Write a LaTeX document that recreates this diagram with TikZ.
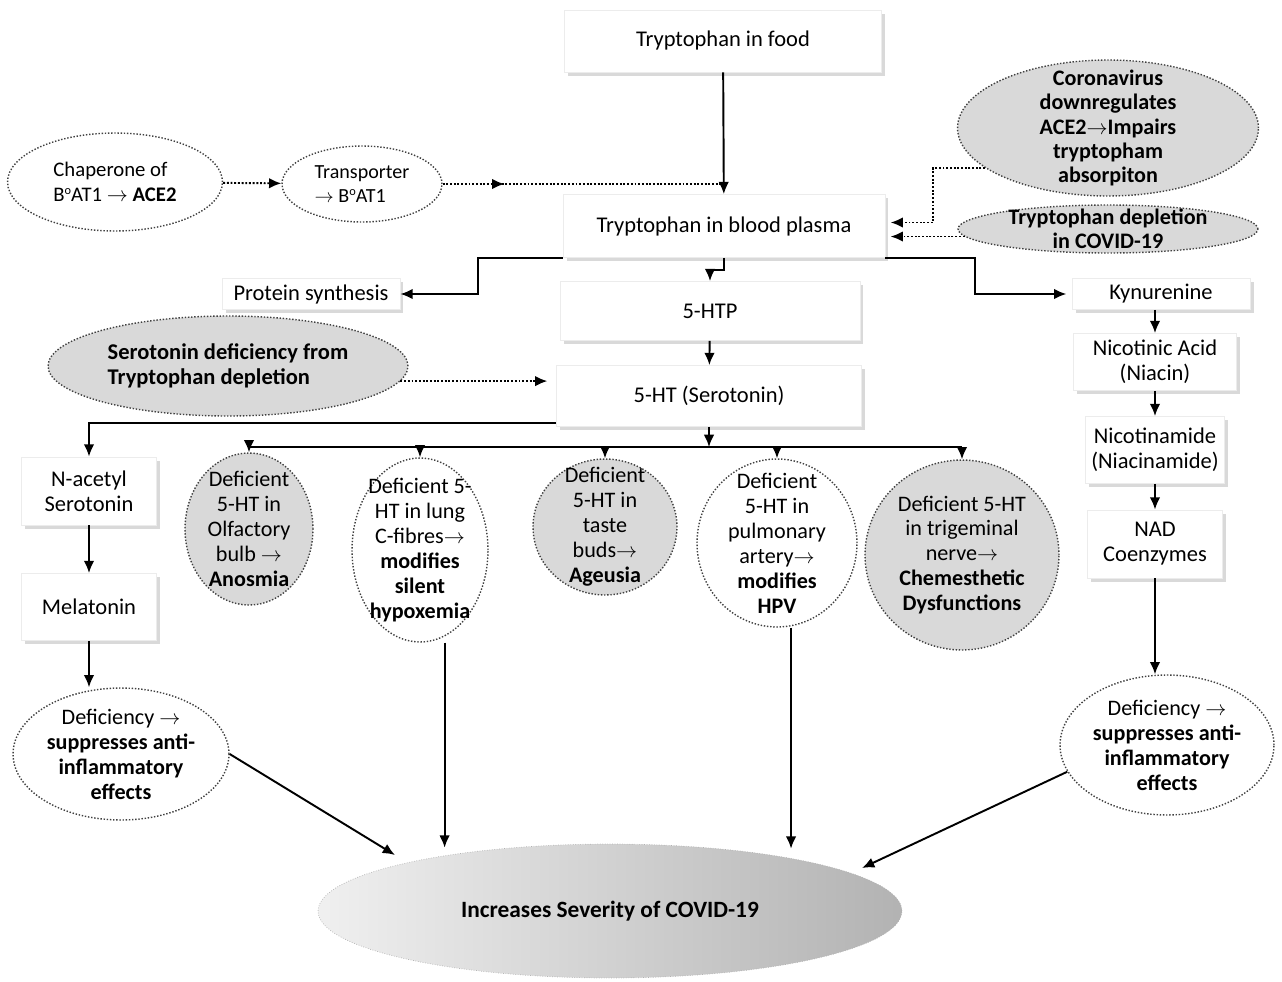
\documentclass[tikz,border=0pt]{standalone}
\usepackage{fontspec}
\setmainfont{Carlito}
\newcommand{\ra}{$\rightarrow$}
\newcommand{\supo}{\raisebox{0.7ex}{\fontsize{7}{7}\selectfont o}}
\usepackage{tikz}
\usetikzlibrary{positioning,shapes.geometric,shadows,decorations.markings,arrows.meta}

\tikzset{
  box/.style={rectangle, fill=white, draw=gray!15, align=center,
    drop shadow={shadow xshift=2pt, shadow yshift=-2pt, opacity=0.3},
    font=\fontsize{12.8}{14.2}\selectfont},
  bubble/.style={ellipse, draw=black!75, densely dotted, line width=0.8pt,
    fill=white, inner sep=-14pt, align=center,
    font=\fontsize{12.6}{14.2}\selectfont},
  greybubble/.style={bubble, fill=gray!30},
  arr/.style={->, line width=1.1pt},
  dotarr/.style={->, densely dotted, line width=1.1pt},
  >={Latex[length=7pt,width=6pt]}
}

\begin{document}
\begin{tikzpicture}[x=0.02cm, y=-0.02cm]
\useasboundingbox (0,0) rectangle (1282,981);

% main chain
\node[box, minimum width=6.34cm, minimum height=1.24cm] (food) at (723,41) {Tryptophan in food};
\node[box, minimum width=6.44cm, minimum height=1.26cm] (plasma) at (724,226) {Tryptophan in blood plasma};
\node[box, minimum width=3.56cm, minimum height=0.52cm] (protein) at (311,294) {Protein synthesis};
\node[box, minimum width=6.0cm, minimum height=1.18cm] (htp) at (710,311) {5-HTP};
\node[box, minimum width=6.1cm, minimum height=1.22cm] (ht) at (709,396) {5-HT (Serotonin)};

% kynurenine branch
\node[box, minimum width=3.56cm, minimum height=0.52cm] (kyn) at (1161,294) {Kynurenine};
\node[box, minimum width=3.26cm, minimum height=1.14cm] (niacin) at (1155,362) {Nicotinic Acid\\(Niacin)};
\node[box, minimum width=2.7cm, minimum height=1.34cm] (niacinamide) at (1155,450) {Nicotinamide\\(Niacinamide)};
\node[box, minimum width=2.7cm, minimum height=1.36cm] (nad) at (1155,544) {NAD\\Coenzymes};

% melatonin branch
\node[box, minimum width=2.7cm, minimum height=1.36cm] (nacetyl) at (89,491) {N-acetyl\\Serotonin};
\node[box, minimum width=2.7cm, minimum height=1.34cm] (melatonin) at (89,607) {Melatonin};

% side bubbles
\node[bubble, minimum width=4.3cm, minimum height=1.96cm, align=left,
  font=\fontsize{11.8}{14}\selectfont] (chap) at (115,182)
  {Chaperone of\\B\supo AT1 \ra\ \textbf{ACE2}};
\node[bubble, minimum width=3.2cm, minimum height=1.52cm, align=left,
  font=\fontsize{11.4}{13.6}\selectfont] (trans) at (362,184)
  {Transporter\\\ra\ B\supo AT1};
\node[greybubble, minimum width=6.02cm, minimum height=2.72cm,
  font=\bfseries\fontsize{12.6}{13.8}\selectfont] (cor) at (1108,128)
  {Coronavirus\\downregulates\\ACE2\ra Impairs\\tryptopham\\absorpiton};
\node[greybubble, minimum width=6.0cm, minimum height=0.96cm,
  font=\bfseries\fontsize{12.6}{13.8}\selectfont] (dep) at (1108,229)
  {Tryptophan depletion\\in COVID-19};
\node[greybubble, minimum width=7.2cm, minimum height=2.0cm, align=left,
  font=\bfseries\fontsize{12.8}{14.5}\selectfont] (sdef) at (228,366)
  {Serotonin deficiency from\\Tryptophan depletion};

% deficiency circles
\node[greybubble, minimum width=2.56cm, minimum height=3.04cm] (olf) at (249,529)
  {Deficient\\5-HT in\\Olfactory\\bulb \ra\\\textbf{Anosmia}};
\node[bubble, minimum width=2.72cm, minimum height=3.68cm] (lung) at (420,550)
  {Deficient 5-\\HT in lung\\C-fibres\ra\\\textbf{modifies}\\\textbf{silent}\\\textbf{hypoxemia}};
\node[greybubble, minimum width=2.88cm, minimum height=2.72cm] (taste) at (605,527)
  {Deficient\\5-HT in\\taste\\buds\ra\\\textbf{Ageusia}};
\node[bubble, minimum width=3.2cm, minimum height=3.36cm] (pulm) at (777,543)
  {Deficient\\5-HT in\\pulmonary\\artery\ra\\\textbf{modifies}\\\textbf{HPV}};
\node[greybubble, minimum width=3.88cm, minimum height=3.8cm] (trig) at (962,555)
  {Deficient 5-HT\\in trigeminal\\nerve\ra\\\textbf{Chemesthetic}\\\textbf{Dysfunctions}};

% anti-inflammatory bubbles
\node[bubble, minimum width=4.32cm, minimum height=2.64cm] (defl) at (121,754)
  {Deficiency \ra\\\textbf{suppresses anti-}\\\textbf{inflammatory}\\\textbf{effects}};
\node[bubble, minimum width=4.28cm, minimum height=2.8cm] (defr) at (1167,745)
  {Deficiency \ra\\\textbf{suppresses anti-}\\\textbf{inflammatory}\\\textbf{effects}};

% outcome
\node[ellipse, draw=gray!60, densely dotted, left color=gray!12, right color=gray!60,
  minimum width=11.68cm, minimum height=2.68cm,
  font=\bfseries\fontsize{13.3}{15}\selectfont] (sev) at (610,911)
  {Increases Severity of COVID-19};

% connectors
\draw[arr] (food) -- (plasma);
\coordinate (join) at (food.south |- trans.east);
\draw[dotarr] (chap) -- (trans);
\draw[densely dotted, line width=1.1pt,
  decoration={markings, mark=at position 0.22 with {\arrow{>}}},
  postaction={decorate}] (trans.east) -- (join);
\draw[dotarr, shorten >=3pt] (cor.198) -- ++(-52,0) |- ([yshift=2pt]plasma.east);
\draw[dotarr, shorten >=3pt] (dep.183) -- (dep.183 -| plasma.east);
\draw[arr] (plasma.south west) -- ++(-85,0) |- (protein.east);
\draw[arr] (plasma.south) -- ++(0,12) -| (htp.north);
\draw[arr, shorten >=3pt] (plasma.south east) -- ++(90,0) |- (kyn.west);
\draw[arr] (htp) -- (ht);
\draw[dotarr, shorten >=5pt] (sdef.355) -- (sdef.355 -| ht.west);

\draw[arr] (niacin.north |- kyn.south) -- (niacin.north);
\draw[arr] (niacin) -- (niacinamide);
\draw[arr] (niacinamide) -- (nad);
\draw[arr] (nad.south) -- (nad.south |- defr.north);

\draw[arr] ([yshift=2pt]ht.south west) -| (nacetyl.north);
\draw[arr] (nacetyl) -- (melatonin);
\draw[arr] (melatonin.south) -- (melatonin.south |- defl.north);

\coordinate (bus) at (ht.south |- 0,447);
\draw[arr] (ht.south) -- (bus);
\draw[line width=1.1pt] (olf.north |- bus) -- (trig.north |- bus);
\foreach \c in {olf,lung,taste,pulm,trig}
  \draw[arr] (\c.north |- bus) -- (\c.north);

\draw[arr] (defl.east) -- ([shift={(-215,-56)}]sev.center);
\draw[arr] ([xshift=14]lung.south) -- ++(0,205);
\draw[arr] ([xshift=8]pulm.south) -- ++(0,221);
\draw[arr] (defr.195) -- ([shift={(252,-43)}]sev.center);
\end{tikzpicture}
\end{document}
